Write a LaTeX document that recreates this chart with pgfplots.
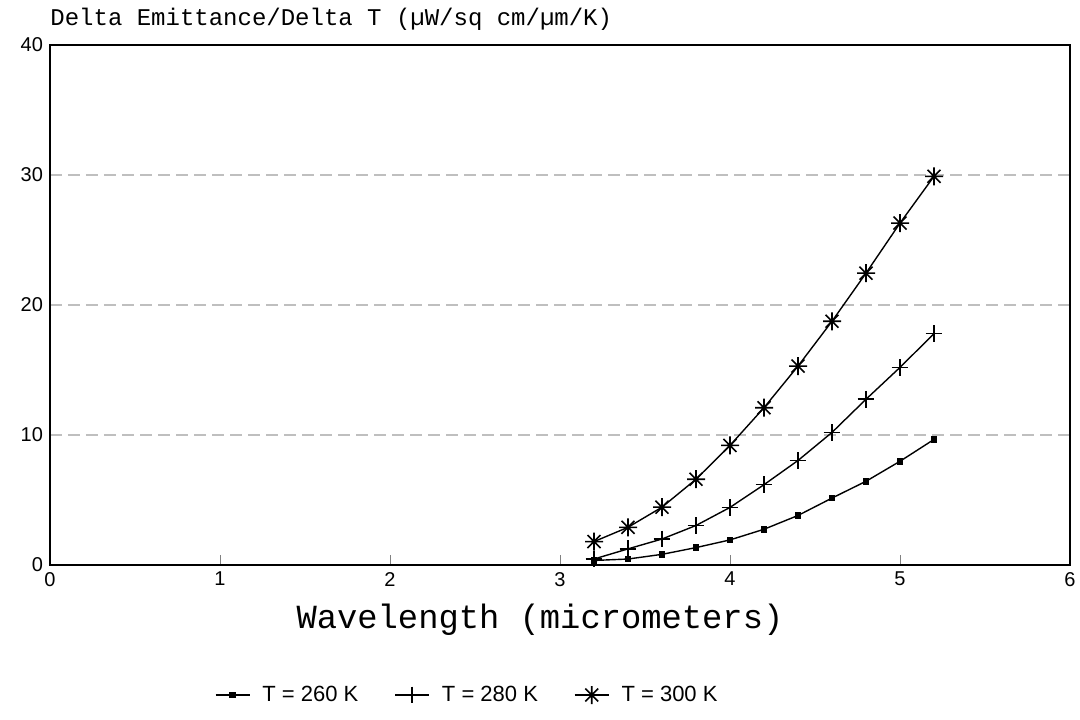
\documentclass[border=0pt]{standalone}
\usepackage{fontspec}
\setmainfont{Liberation Mono}
\newfontfamily\sansf{Liberation Sans}
\usepackage{pgfplots}
\pgfplotsset{compat=1.18}
\pgfdeclareplotmark{ast8}{%
  \pgfpathmoveto{\pgfqpoint{-\pgfplotmarksize}{0pt}}\pgfpathlineto{\pgfqpoint{\pgfplotmarksize}{0pt}}%
  \pgfpathmoveto{\pgfqpoint{0pt}{-\pgfplotmarksize}}\pgfpathlineto{\pgfqpoint{0pt}{\pgfplotmarksize}}%
  \pgfpathmoveto{\pgfqpoint{-0.72\pgfplotmarksize}{-0.72\pgfplotmarksize}}\pgfpathlineto{\pgfqpoint{0.72\pgfplotmarksize}{0.72\pgfplotmarksize}}%
  \pgfpathmoveto{\pgfqpoint{-0.72\pgfplotmarksize}{0.72\pgfplotmarksize}}\pgfpathlineto{\pgfqpoint{0.72\pgfplotmarksize}{-0.72\pgfplotmarksize}}%
  \pgfusepathqstroke}
\begin{document}
\begin{tikzpicture}
\begin{axis}[
  scale only axis, width=510pt, height=260pt,
  xmin=0, xmax=6, ymin=0, ymax=40,
  xtick={0,1,2,3,4,5,6}, ytick={0,10,20,30,40},
  xtick pos=bottom, ytick pos=left,
  tick align=inside,
  major tick length=5pt,
  ytick style={draw=none},
  axis line style={line width=0.9pt},
  ymajorgrids, grid style={gray!50, dash pattern=on 6pt off 3pt, line width=0.6pt},
  /pgf/number format/assume math mode=true,
  ticklabel style={font=\sansf\fontsize{10}{12}\selectfont},
  xlabel={Wavelength (micrometers)},
  xlabel style={font=\fontsize{16.9}{20}\selectfont, yshift=-2pt, xshift=-10pt},
  legend style={at={(rel axis cs:0.41,-0.25)}, anchor=center, draw=none, fill=none,
    legend columns=3, font=\sansf\fontsize{11}{13}\selectfont,
    /tikz/every even column/.append style={column sep=16pt},
    /tikz/every odd column/.append style={column sep=4pt}},
  legend cell align=left,
  every axis plot/.append style={black, line width=0.7pt},
]
\addplot[mark=square*, mark size=1.3pt] coordinates {
(3.2,0.35)(3.4,0.46)(3.6,0.82)(3.8,1.34)(4.0,1.93)(4.2,2.75)(4.4,3.81)(4.6,5.15)(4.8,6.44)(5.0,7.98)(5.2,9.66)};
\addlegendentry{T = 260 K}
\addplot[mark=+, mark size=4.2pt, mark options={line width=0.8pt}] coordinates {
(3.2,0.46)(3.4,1.24)(3.6,2.0)(3.8,3.04)(4.0,4.43)(4.2,6.18)(4.4,8.04)(4.6,10.2)(4.8,12.75)(5.0,15.2)(5.2,17.8)};
\addlegendentry{T = 280 K}
\addplot[mark=ast8, mark size=4.5pt, mark options={line width=0.8pt}] coordinates {
(3.2,1.8)(3.4,2.9)(3.6,4.45)(3.8,6.6)(4.0,9.2)(4.2,12.1)(4.4,15.3)(4.6,18.75)(4.8,22.45)(5.0,26.3)(5.2,29.9)};
\addlegendentry{T = 300 K}
\end{axis}
\node[anchor=west, font=\fontsize{12}{14}\selectfont, inner sep=0pt] at (0pt,273pt) {Delta Emittance/Delta T (µW/sq cm/µm/K)};
\pgfresetboundingbox
\path[use as bounding box] (-25pt,-77pt) rectangle (515pt,282.5pt);
\end{tikzpicture}
\end{document}
